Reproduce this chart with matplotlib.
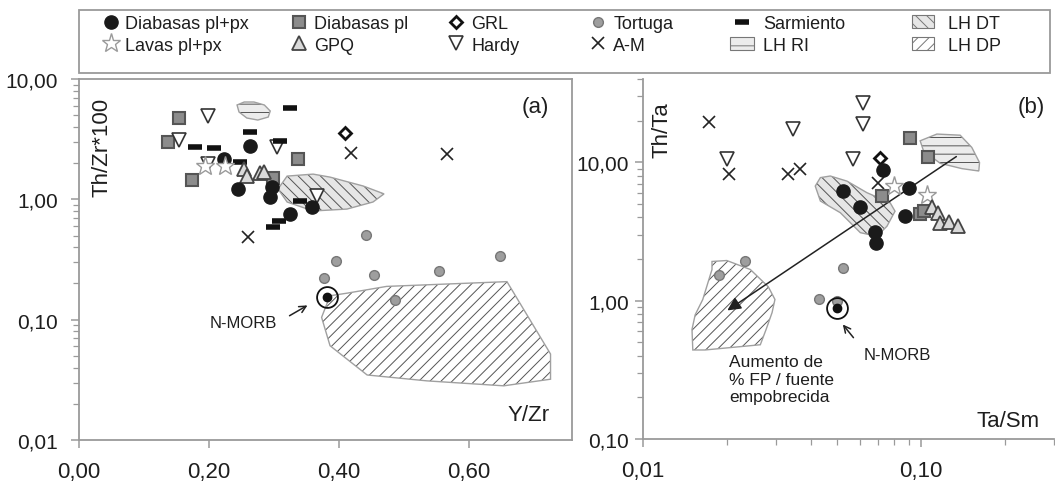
"""
Th/Zr*100 vs Y/Zr (a) and Th/Ta vs Ta/Sm (b) discrimination diagrams
with the LH fields, N-MORB reference and the depletion-trend arrow.
Saves out.png.
"""

import matplotlib.pyplot as plt
from matplotlib.patches import Polygon, Patch, Rectangle
from matplotlib.lines import Line2D
from matplotlib.ticker import FixedLocator, FuncFormatter, LogLocator, NullFormatter

plt.rcParams['font.family'] = ['Liberation Sans', 'DejaVu Sans']
plt.rcParams['hatch.linewidth'] = 0.7

W, H = 1055, 489

# --------------------------------------------------------------------------- #
# Panel (a): Y/Zr  vs  Th/Zr*100
# --------------------------------------------------------------------------- #
A_DIAB_PLPX_X = [0.263, 0.223, 0.245, 0.294, 0.296, 0.358, 0.324]
A_DIAB_PLPX_Y = [2.79, 2.16, 1.23, 1.04, 1.26, 0.857, 0.755]
A_LAVAS_X = [0.194, 0.225]
A_LAVAS_Y = [1.88, 1.88]
A_DIAB_PL_X = [0.153, 0.137, 0.173, 0.337, 0.299]
A_DIAB_PL_Y = [4.71, 2.98, 1.46, 2.16, 1.49]
A_GPQ_X = [0.253, 0.258, 0.278, 0.285]
A_GPQ_Y = [1.77, 1.55, 1.65, 1.70]
A_GRL_X = [0.409]
A_GRL_Y = [3.56]
A_HARDY_X = [0.199, 0.153, 0.304, 0.199, 0.366]
A_HARDY_Y = [4.9, 3.13, 2.7, 1.96, 1.07]
A_TORTUGA_X = [0.442, 0.395, 0.377, 0.454, 0.554, 0.648, 0.486]
A_TORTUGA_Y = [0.505, 0.309, 0.224, 0.234, 0.254, 0.34, 0.146]
A_AM_X = [0.26, 0.418, 0.566]
A_AM_Y = [0.483, 2.41, 2.38]
A_SARM_X = [0.325, 0.263, 0.178, 0.208, 0.309, 0.248, 0.34, 0.307, 0.299]
A_SARM_Y = [5.7, 3.6, 2.74, 2.67, 3.07, 2.06, 0.975, 0.664, 0.59]
A_NMORB = (0.381, 0.155)

A_RI_X = [0.243, 0.254, 0.269, 0.285, 0.294, 0.291, 0.275, 0.258, 0.246]
A_RI_Y = [6.08, 6.44, 6.44, 6.08, 5.42, 4.83, 4.56, 4.74, 5.32]
A_DT_X = [0.306, 0.32, 0.36, 0.386, 0.437, 0.469, 0.452, 0.412, 0.36, 0.32]
A_DT_Y = [1.22, 1.56, 1.62, 1.53, 1.29, 1.11, 0.95, 0.83, 0.80, 0.95]
A_DP_X = [0.386, 0.412, 0.473, 0.658, 0.725, 0.725, 0.653, 0.535, 0.443, 0.386, 0.373]
A_DP_Y = [0.158, 0.166, 0.189, 0.207, 0.0518, 0.032, 0.0282, 0.031, 0.0347, 0.0607, 0.1045]

# --------------------------------------------------------------------------- #
# Panel (b): Ta/Sm  vs  Th/Ta
# --------------------------------------------------------------------------- #
B_DIAB_PLPX_X = [0.0729, 0.0525, 0.0600, 0.090, 0.0876, 0.0684, 0.0689]
B_DIAB_PLPX_Y = [8.8, 6.2, 4.74, 6.56, 4.08, 3.13, 2.62]
B_LAVAS_X = [0.0795, 0.1047]
B_LAVAS_Y = [6.73, 5.77]
B_DIAB_PL_X = [0.0912, 0.1054, 0.0722, 0.099, 0.1023]
B_DIAB_PL_Y = [15.1, 11.0, 5.7, 4.2, 4.44]
B_GPQ_X = [0.109, 0.1153, 0.1167, 0.126, 0.135]
B_GPQ_Y = [4.77, 4.32, 3.65, 3.7, 3.46]
B_GRL_X = [0.0713]
B_GRL_Y = [10.8]
B_HARDY_X = [0.0200, 0.0347, 0.062, 0.062, 0.057]
B_HARDY_Y = [10.5, 17.3, 26.8, 18.8, 10.5]
B_TORTUGA_X = [0.0523, 0.0233, 0.0188, 0.043, 0.0498]
B_TORTUGA_Y = [1.73, 1.93, 1.52, 1.03, 0.99]
B_AM_X = [0.0172, 0.0203, 0.0331, 0.0367, 0.070]
B_AM_Y = [19.6, 8.28, 8.28, 8.9, 7.04]
B_NMORB = (0.0498, 0.885)

B_RI_X = [0.0991, 0.1138, 0.138, 0.152, 0.162, 0.161, 0.140, 0.117, 0.1019]
B_RI_Y = [14.3, 16.0, 15.7, 12.8, 9.95, 8.65, 9.0, 9.83, 12.1]
B_DT_X = [0.0416, 0.0434, 0.0471, 0.0541, 0.0638, 0.0773, 0.0805, 0.0753,
          0.0693, 0.0604, 0.0512, 0.0434]
B_DT_Y = [6.73, 7.75, 7.96, 7.31, 6.03, 5.10, 4.43, 3.45, 2.92, 3.10, 4.32, 5.25]
B_DP_X = [0.0177, 0.0200, 0.0243, 0.0282, 0.0298, 0.0291, 0.0277, 0.0264,
          0.0167, 0.0151, 0.0150, 0.0154, 0.0164, 0.0177]
B_DP_Y = [1.92, 1.95, 1.68, 1.26, 1.02, 0.82, 0.62, 0.48, 0.44, 0.44, 0.62,
          0.79, 1.02, 1.68]

TREND_START = (0.1337, 11.0)
TREND_END = (0.0201, 0.85)

# --------------------------------------------------------------------------- #
# Styles
# --------------------------------------------------------------------------- #
STYLE = {
    'diab_plpx': dict(marker='o', ms=9.5, mfc='#1a1a1a', mec='#1a1a1a', mew=1),
    'lavas':     dict(marker='*', ms=14, mfc='white', mec='#9a9a9a', mew=1),
    'diab_pl':   dict(marker='s', ms=8.5, mfc='#8c8c8c', mec='#555555', mew=1.5),
    'gpq':       dict(marker='^', ms=10, mfc='#d9d9d9', mec='#444444', mew=1.3),
    'grl':       dict(marker='D', ms=6.5, mfc='white', mec='#111111', mew=2),
    'hardy':     dict(marker='v', ms=10, mfc='white', mec='#333333', mew=1.2),
    'tortuga':   dict(marker='o', ms=7, mfc='#9e9e9e', mec='#777777', mew=1),
    'am':        dict(marker='x', ms=8, mec='#222222', mew=1.2),
    'sarm':      dict(marker='_', ms=10, mec='#111111', mew=4),
}
FIELD = {
    'ri': dict(facecolor='#ececec', hatch='--'),
    'dt': dict(facecolor='#e6e6e6', hatch='\\\\\\'),
    'dp': dict(facecolor='white', hatch='///'),
}
SPINE = '#9a9a9a'
TXT = '#1e1e1e'


def fmt_comma(v, _):
    return f'{v:.2f}'.replace('.', ',')


def draw_field(ax, xs, ys, key):
    pts = list(zip(xs, ys))
    ax.add_patch(Polygon(pts, closed=True, edgecolor='#555555', lw=0,
                         zorder=1, **FIELD[key]))
    ax.add_patch(Polygon(pts, closed=True, fill=False, edgecolor='#a0a0a0',
                         lw=1.0, zorder=1.1))


def draw_points(ax, groups):
    for key, xs, ys in groups:
        ax.plot(xs, ys, ls='none', zorder=3, **STYLE[key])


def draw_nmorb(ax, pt):
    ax.plot(*pt, ls='none', marker='o', ms=6, mfc='#111', mec='#111', zorder=4)
    ax.plot(*pt, ls='none', marker='o', ms=15, mfc='none', mec='#111',
            mew=1.3, zorder=4)


def style_axes(ax, box):
    for side, sp in ax.spines.items():
        sp.set_color(SPINE)
        sp.set_linewidth(1.3)
        if not box and side in ('top', 'right'):
            sp.set_visible(False)
    ax.tick_params(which='both', direction='out', color=SPINE, labelcolor=TXT)
    ax.tick_params(which='major', length=6, width=1.1)
    ax.tick_params(which='minor', length=4, width=0.9)
    ax.tick_params(axis='x', which='both', pad=9)


fig = plt.figure(figsize=(W / 100, H / 100), dpi=100, facecolor='white')

# --------------------------------------------------------------------------- #
# (a)
# --------------------------------------------------------------------------- #
ax_a = fig.add_axes([79 / W, 1 - 441 / H, 493 / W, 361 / H])
ax_a.set_yscale('log')
ax_a.set_xlim(0, 0.758)
ax_a.set_ylim(0.01, 10)
ax_a.xaxis.set_major_locator(FixedLocator([0, 0.2, 0.4, 0.6]))
ax_a.xaxis.set_major_formatter(FuncFormatter(fmt_comma))
ax_a.yaxis.set_major_locator(LogLocator(base=10))
ax_a.yaxis.set_minor_locator(LogLocator(base=10, subs=range(2, 10)))
ax_a.yaxis.set_major_formatter(FuncFormatter(fmt_comma))
ax_a.yaxis.set_minor_formatter(NullFormatter())
style_axes(ax_a, box=True)
ax_a.tick_params(axis='y', which='both', pad=9)

draw_field(ax_a, A_DP_X, A_DP_Y, 'dp')
draw_field(ax_a, A_DT_X, A_DT_Y, 'dt')
draw_field(ax_a, A_RI_X, A_RI_Y, 'ri')
draw_points(ax_a, [
    ('diab_pl', A_DIAB_PL_X, A_DIAB_PL_Y),
    ('hardy', A_HARDY_X, A_HARDY_Y),
    ('sarm', A_SARM_X, A_SARM_Y),
    ('gpq', A_GPQ_X, A_GPQ_Y),
    ('diab_plpx', A_DIAB_PLPX_X, A_DIAB_PLPX_Y),
    ('lavas', A_LAVAS_X, A_LAVAS_Y),
    ('grl', A_GRL_X, A_GRL_Y),
    ('tortuga', A_TORTUGA_X, A_TORTUGA_Y),
    ('am', A_AM_X, A_AM_Y),
])
draw_nmorb(ax_a, A_NMORB)
ax_a.annotate('', xy=(0.355, 0.135), xytext=(0.32, 0.105),
              arrowprops=dict(arrowstyle='->', lw=1.1, color='#222',
                              mutation_scale=12))
ax_a.text(0.305, 0.0955, 'N-MORB', ha='right', va='center', fontsize=12,
          color=TXT)
ax_a.text(0.047, 0.812, 'Th/Zr*100', transform=ax_a.transAxes, rotation=90,
          ha='center', va='center', fontsize=16, color=TXT)
ax_a.text(0.955, 0.072, 'Y/Zr', transform=ax_a.transAxes, ha='right',
          va='center', fontsize=16, color=TXT)
ax_a.text(0.925, 0.925, '(a)', transform=ax_a.transAxes, ha='center',
          va='center', fontsize=16, color=TXT)

# --------------------------------------------------------------------------- #
# (b)
# --------------------------------------------------------------------------- #
ax_b = fig.add_axes([643 / W, 1 - 440 / H, 411 / W, 360 / H])
ax_b.set_xscale('log')
ax_b.set_yscale('log')
ax_b.set_xlim(0.01, 0.3)
ax_b.set_ylim(0.1, 40)
for axis in (ax_b.xaxis, ax_b.yaxis):
    axis.set_major_locator(LogLocator(base=10))
    axis.set_minor_locator(LogLocator(base=10, subs=range(2, 10)))
    axis.set_major_formatter(FuncFormatter(fmt_comma))
    axis.set_minor_formatter(NullFormatter())
style_axes(ax_b, box=False)
ax_b.tick_params(axis='y', which='both', pad=4)

draw_field(ax_b, B_DP_X, B_DP_Y, 'dp')
draw_field(ax_b, B_DT_X, B_DT_Y, 'dt')
draw_field(ax_b, B_RI_X, B_RI_Y, 'ri')
ax_b.annotate('', xy=TREND_END, xytext=TREND_START,
              arrowprops=dict(arrowstyle='-|>', lw=1.1, color='#222',
                              mutation_scale=20, shrinkA=0, shrinkB=0),
              zorder=2)
draw_points(ax_b, [
    ('hardy', B_HARDY_X, B_HARDY_Y),
    ('am', B_AM_X, B_AM_Y),
    ('grl', B_GRL_X, B_GRL_Y),
    ('diab_pl', B_DIAB_PL_X, B_DIAB_PL_Y),
    ('diab_plpx', B_DIAB_PLPX_X, B_DIAB_PLPX_Y),
    ('lavas', B_LAVAS_X, B_LAVAS_Y),
    ('gpq', B_GPQ_X, B_GPQ_Y),
    ('tortuga', B_TORTUGA_X, B_TORTUGA_Y),
])
draw_nmorb(ax_b, B_NMORB)
ax_b.annotate('', xy=(0.0515, 0.697), xytext=(0.0579, 0.521),
              arrowprops=dict(arrowstyle='->', lw=1.1, color='#222',
                              mutation_scale=12))
ax_b.text(0.0818, 0.406, 'N-MORB', ha='center', va='center', fontsize=12,
          color=TXT)
ax_b.text(0.0204, 0.41, 'Aumento de\n% FP / fuente\nempobrecida',
          ha='left', va='top', fontsize=12.5, color=TXT, linespacing=1.2)
ax_b.text(0.046, 0.861, 'Th/Ta', transform=ax_b.transAxes, rotation=90,
          ha='center', va='center', fontsize=16, color=TXT)
ax_b.text(0.966, 0.05, 'Ta/Sm', transform=ax_b.transAxes, ha='right',
          va='center', fontsize=16, color=TXT)
ax_b.text(0.944, 0.925, '(b)', transform=ax_b.transAxes, ha='center',
          va='center', fontsize=16, color=TXT)

for ax in (ax_a, ax_b):
    for lab in ax.get_xticklabels():
        lab.set_fontsize(16)
    for lab in ax.get_yticklabels():
        lab.set_fontsize(15)

# --------------------------------------------------------------------------- #
# Legend: boxed strip across the top, six two-row columns
# --------------------------------------------------------------------------- #
fig.add_artist(Rectangle((79 / W, 1 - 74 / H), 971 / W, 63 / H,
                         transform=fig.transFigure, fill=False,
                         edgecolor=SPINE, lw=1.3))


def pt(key):
    return Line2D([], [], ls='none', **STYLE[key])


def fld(key):
    return Patch(edgecolor='#777777', lw=0.8, **FIELD[key])


columns = [
    (102, 1.0, 0.3, [(pt('diab_plpx'), 'Diabasas pl+px'), (pt('lavas'), 'Lavas pl+px')]),
    (290, 1.0, 0.35, [(pt('diab_pl'), 'Diabasas pl'), (pt('gpq'), 'GPQ')]),
    (447, 1.0, 0.35, [(pt('grl'), 'GRL'), (pt('hardy'), 'Hardy')]),
    (589, 1.0, 0.35, [(pt('tortuga'), 'Tortuga'), (pt('am'), 'A-M')]),
    (730, 1.35, 0.5, [(pt('sarm'), 'Sarmiento'), (fld('ri'), 'LH RI')]),
    (912, 1.2, 0.8, [(fld('dt'), 'LH DT'), (fld('dp'), 'LH DP')]),
]
for x_px, hlen, hpad, entries in columns:
    fig.legend([h for h, _ in entries], [t for _, t in entries],
               loc='upper left', bbox_to_anchor=(x_px / W, 1 - 16 / H),
               frameon=False, borderpad=0, borderaxespad=0, fontsize=13,
               handlelength=hlen, handletextpad=hpad, labelspacing=0.25,
               labelcolor=TXT)

fig.savefig('out.png', dpi=100, facecolor='white')
